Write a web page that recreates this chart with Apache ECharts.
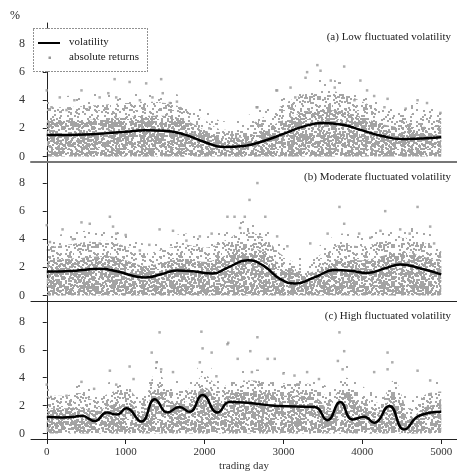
<!DOCTYPE html>
<html><head><meta charset="utf-8">
<script src="https://cdn.jsdelivr.net/npm/echarts@6/dist/echarts.min.js"></script>
<style>html,body{margin:0;padding:0;background:#fff}#c{width:457px;height:473px}</style>
</head><body><div id="c"></div>
<script>
// ---------- data ----------
const xTicks = [0, 1000, 2000, 3000, 4000, 5000];
const yTicks = [0, 2, 4, 6, 8];
const xName = 'trading day';
const yUnit = '%';
const titles = ['(a) Low fluctuated volatility', '(b) Moderate fluctuated volatility', '(c) High fluctuated volatility'];
const legendNames = ['volatility', 'absolute returns'];

// volatility curves
const volA_x = [0, 250, 500, 750, 1000, 1250, 1500, 1750, 2000, 2250, 2500, 2750, 3000, 3250, 3500, 3750, 4000, 4250, 4500, 4750, 5000];
const volA_y = [1.52, 1.52, 1.55, 1.65, 1.76, 1.86, 1.82, 1.55, 1.02, 0.66, 0.74, 1.1, 1.6, 2.12, 2.37, 2.25, 1.85, 1.45, 1.24, 1.28, 1.36];
const volB_x = [0, 250, 450, 670, 900, 1100, 1250, 1450, 1650, 1850, 2100, 2300, 2550, 2750, 2950, 3150, 3400, 3650, 3850, 4060, 4300, 4480, 4750, 5000];
const volB_y = [1.7, 1.72, 1.8, 1.9, 1.7, 1.38, 1.27, 1.5, 1.78, 1.72, 1.55, 2.0, 2.5, 2.1, 1.2, 0.85, 1.3, 1.8, 1.75, 1.6, 1.95, 2.2, 1.9, 1.5];
const volC_x = [0, 200, 330, 440, 610, 760, 890, 1010, 1200, 1370, 1530, 1680, 1810, 1975, 2165, 2316, 2544, 2924, 3392, 3557, 3721, 3873, 4025, 4150, 4342, 4530, 4721, 5000];
const volC_y = [1.18, 1.15, 1.18, 1.27, 0.9, 1.5, 1.35, 1.8, 0.85, 2.45, 1.5, 1.9, 1.55, 2.75, 1.5, 2.25, 2.2, 1.97, 1.9, 0.95, 2.25, 1.0, 1.2, 0.77, 1.97, 0.28, 1.27, 1.55];

// envelopes of the cloud of absolute returns
const envAB_x = [0, 250, 500, 750, 1000, 1250, 1500, 1750, 2000, 2250, 2500, 2750, 3000, 3250, 3500, 3750, 4000, 4250, 4500, 4750, 5000];
const coreA = [2.6, 2.6, 2.6, 2.7, 2.8, 2.9, 2.9, 2.6, 1.9, 1.3, 1.4, 1.9, 2.6, 3.1, 3.3, 3.2, 2.8, 2.3, 2.1, 2.1, 2.2];
const outerA = [3.5, 3.5, 3.6, 3.7, 3.8, 3.9, 3.8, 3.4, 2.6, 1.9, 2.1, 2.8, 3.7, 4.4, 4.7, 4.5, 3.9, 3.3, 3.0, 3.0, 3.1];
const fringeA = [4.3, 4.3, 4.4, 4.5, 4.6, 4.7, 4.6, 4.2, 3.3, 2.5, 2.8, 3.6, 4.5, 5.2, 5.5, 5.3, 4.7, 4.1, 3.8, 3.8, 3.9];
const coreB = [2.5, 2.6, 2.7, 2.8, 2.5, 2.1, 2.4, 2.6, 2.4, 2.8, 3.4, 3.1, 2.0, 1.5, 2.1, 2.6, 2.5, 2.8, 3.1, 2.8, 2.3];
const outerB = [3.4, 3.6, 3.8, 3.9, 3.5, 3.0, 3.3, 3.6, 3.4, 3.9, 4.5, 4.1, 2.8, 2.2, 3.0, 3.6, 3.5, 3.9, 4.1, 3.8, 3.2];
const fringeB = [4.2, 4.4, 4.6, 4.7, 4.3, 3.7, 4.0, 4.4, 4.2, 4.7, 5.3, 4.9, 3.5, 2.9, 3.7, 4.4, 4.3, 4.7, 4.9, 4.6, 4.0];
const envC_x = [0, 200, 400, 600, 800, 1000, 1200, 1400, 1600, 1800, 2000, 2200, 2400, 2600, 2800, 3000, 3200, 3400, 3600, 3800, 4000, 4200, 4400, 4600, 4800, 5000];
const coreC = [1.8, 1.8, 1.9, 1.6, 2.0, 2.3, 1.5, 3.2, 2.2, 2.3, 3.3, 2.3, 2.9, 2.9, 2.8, 2.7, 2.7, 2.6, 1.6, 2.9, 1.9, 1.5, 2.7, 1.1, 1.9, 2.1];
const outerC = [2.7, 2.7, 2.9, 2.4, 2.9, 3.2, 2.3, 4.4, 3.1, 3.2, 4.2, 3.3, 3.8, 3.8, 3.7, 3.6, 3.6, 3.4, 2.5, 4.0, 2.7, 2.2, 3.8, 1.8, 2.8, 3.0];
const fringeC = [3.4, 3.4, 3.6, 3.1, 3.7, 4.0, 3.0, 5.3, 3.9, 4.0, 5.1, 4.1, 4.6, 4.6, 4.5, 4.4, 4.4, 4.2, 3.2, 4.9, 3.4, 2.9, 4.7, 2.5, 3.5, 3.7];

// sparse large absolute returns [day, %]
const sparseA = [[0,4.7],[860,5.5],[1450,5.5],[1260,5.2],[440,4.7],[1050,5.3],[60,3.5],[165,4.2],[670,4.2],[880,4.2],[1180,4.0],[1340,4.2],[250,3.3],[545,3.5],[1560,3.8],
 [3300,6.0],[3430,6.5],[3770,6.4],[3470,6.1],[3280,5.6],[3600,5.4],[3975,5.4],[2920,4.7],[3090,4.9],[4060,4.7],[4320,4.1],[4700,4.0],[4820,3.8],[2670,3.5],[4280,3.5],[3900,4.0],[4990,3.1],
 [1470,4.5],[2660,3.5],[2910,4.7],[2060,2.0],[1850,1.7],[1650,3.9],[780,4.5],[350,4.0],[3150,4.2],[3650,4.9],[4150,4.3],[4550,3.4]];
const sparseB = [[0,5.0],[440,5.2],[545,5.1],[800,5.6],[840,4.9],[200,4.7],[1430,4.7],[1600,4.6],[40,3.8],[330,4.0],[670,3.7],[880,4.4],[1180,3.2],[1940,4.2],[2090,4.4],[1770,3.9],[2290,5.6],
 [2670,8.0],[2570,6.8],[3710,6.3],[4290,6.0],[4700,6.3],[2380,5.6],[2510,5.6],[2770,5.6],[4860,4.9],[3770,5.1],[3960,4.4],[4230,4.6],[4480,4.7],[3560,4.4],[4910,3.7],[2920,4.2],[3340,3.7],
 [1000,4.3],[1300,3.6],[2450,4.8],[3050,3.5],[4100,4.1],[4600,4.4]];
const sparseC = [[0,3.5],[1430,7.25],[1960,7.3],[1330,5.8],[1975,6.1],[2090,5.8],[2290,6.4],[1050,4.8],[800,4.5],[440,3.7],[880,3.5],[1390,5.1],[1600,4.4],[1940,5.1],[250,2.7],
 [2670,6.9],[2580,5.9],[3710,7.25],[3770,5.9],[4320,5.8],[4700,4.5],[2890,5.35],[2800,5.35],[3300,4.4],[4150,4.4],[2420,5.35],[3140,4.15],[4860,3.8],[2300,6.5],[3750,4.6],[4320,4.6],
 [1100,3.9],[1450,4.6],[2150,4.1],[2600,4.4],[3000,4.3],[3450,3.9],[4380,5.1],[3690,5.2],[600,3.2]];

// ---------- build ----------
function zip(xs, ys) { return xs.map((x, i) => [x, ys[i]]); }

// integer hash for a fixed speckle texture (style only, not data)
function hash(n) {
  n = Math.imul(n ^ (n >>> 16), 0x45d9f3b);
  n = Math.imul(n ^ (n >>> 16), 0x45d9f3b);
  n ^= n >>> 16;
  return n >>> 0;
}
function makePattern(size, n, salt, color) {
  const cv = document.createElement('canvas');
  cv.width = size; cv.height = size;
  const ctx = cv.getContext('2d');
  ctx.fillStyle = color;
  for (let i = 0; i < n; i++) {
    const x = hash(salt * 10007 + 2 * i) % size;
    const y = hash(salt * 10007 + 2 * i + 1) % size;
    ctx.fillRect(x, y, 2, 2);
  }
  return { image: cv, repeat: 'repeat' };
}
const patFringe = makePattern(41, 22, 5, '#a6a6a6');
const patSparse = makePattern(37, 105, 11, '#a6a6a6');
const patDense = makePattern(30, 170, 23, '#a2a2a2');

const FONT = 'Liberation Serif';
const grids = [
  { left: 31, right: 0, top: 23, height: 139 },
  { left: 31, right: 0, top: 162, height: 139 },
  { left: 31, right: 0, top: 301, height: 139 }
];
const panels = [
  { vx: volA_x, vy: volA_y, ex: envAB_x, core: coreA, outer: outerA, fringe: fringeA, sp: sparseA },
  { vx: volB_x, vy: volB_y, ex: envAB_x, core: coreB, outer: outerB, fringe: fringeB, sp: sparseB },
  { vx: volC_x, vy: volC_y, ex: envC_x, core: coreC, outer: outerC, fringe: fringeC, sp: sparseC }
];

const xAxes = grids.map((g, i) => ({
  type: 'value', gridIndex: i, min: -200, max: 5200,
  splitLine: { show: false },
  axisLine: { show: true, onZero: false, lineStyle: { color: i === 0 ? '#777' : '#222', width: i === 0 ? 2 : 1 } },
  axisTick: { show: i === 2, customValues: xTicks, length: 5, lineStyle: { color: '#222' } },
  axisLabel: { show: i === 2, customValues: xTicks, formatter: v => String(v), fontFamily: FONT, fontSize: 11, color: '#333', margin: 8 },
  name: i === 2 ? xName : '', nameLocation: 'middle', nameGap: 22,
  nameTextStyle: { fontFamily: FONT, fontSize: 11, color: '#333' }
}));
const yAxes = grids.map((g, i) => ({
  type: 'value', gridIndex: i, min: -0.4, max: 9.5,
  splitLine: { show: false },
  axisLine: { show: true, lineStyle: { color: '#222', width: 1 } },
  axisTick: { show: true, customValues: yTicks, length: 4, lineStyle: { color: '#222' } },
  axisLabel: { customValues: yTicks, fontFamily: FONT, fontSize: 12, color: '#333', margin: 6 }
}));

const series = [];
panels.forEach((p, i) => {
  const band = (data, pat, z) => ({ type: 'line', xAxisIndex: i, yAxisIndex: i, data, smooth: 0.4, showSymbol: false,
    lineStyle: { width: 0, opacity: 0 }, areaStyle: { color: pat, opacity: 1 }, z, silent: true });
  series.push(band(zip(p.ex, p.fringe), patFringe, 1));
  series.push(band(zip(p.ex, p.outer), patSparse, 1));
  series.push(band(zip(p.ex, p.core), patDense, 2));
  series.push({ type: 'scatter', xAxisIndex: i, yAxisIndex: i, data: p.sp, symbol: 'rect', symbolSize: 2.5,
    itemStyle: { color: '#999' }, z: 3, silent: true });
  series.push({ type: 'line', xAxisIndex: i, yAxisIndex: i, data: zip(p.vx, p.vy), smooth: 0.5, showSymbol: false,
    lineStyle: { color: '#000', width: 2.5 }, z: 5, silent: true });
});

const txt = { fontFamily: FONT, fontSize: 11, fill: '#222' };
const graphic = [
  { type: 'text', left: 10, top: 10, style: Object.assign({ text: yUnit }, txt, { fontSize: 12 }) },
  { type: 'text', right: 6, top: 32, style: Object.assign({ text: titles[0] }, txt) },
  { type: 'text', right: 6, top: 172, style: Object.assign({ text: titles[1] }, txt) },
  { type: 'text', right: 6, top: 311, style: Object.assign({ text: titles[2] }, txt) },
  { type: 'rect', shape: { x: 33.5, y: 28.5, width: 114, height: 43 }, style: { fill: '#fff', stroke: '#222', lineWidth: 1, lineDash: [1, 2] }, z: 10 },
  { type: 'line', shape: { x1: 38, y1: 43, x2: 60, y2: 43 }, style: { stroke: '#000', lineWidth: 2 }, z: 11 },
  { type: 'rect', shape: { x: 48.5, y: 56.5, width: 2.5, height: 2.5 }, style: { fill: '#999' }, z: 11 },
  { type: 'text', x: 69, y: 37, style: Object.assign({ text: legendNames[0] }, txt), z: 11 },
  { type: 'text', x: 69, y: 52, style: Object.assign({ text: legendNames[1] }, txt), z: 11 }
];

const chart = echarts.init(document.getElementById('c'), null, { renderer: 'canvas' });
chart.setOption({
  animation: false,
  backgroundColor: '#fff',
  grid: grids,
  xAxis: xAxes,
  yAxis: yAxes,
  series: series,
  graphic: graphic
});
</script></body></html>
